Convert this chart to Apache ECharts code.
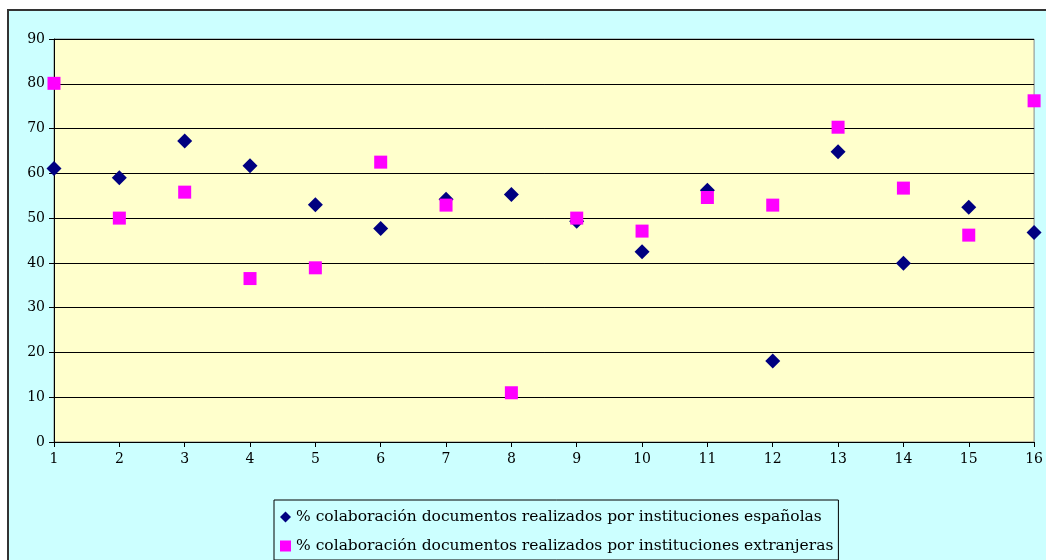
<!DOCTYPE html>
<html><head><meta charset="utf-8">
<script src="https://cdn.jsdelivr.net/npm/echarts@6/dist/echarts.min.js"></script>
<style>html,body{margin:0;padding:0;background:#fff}#c{width:1046px;height:560px}</style>
</head><body><div id="c"></div>
<script>
const xValues = [1,2,3,4,5,6,7,8,9,10,11,12,13,14,15,16];
const espanolas = [61.1,59.0,67.2,61.7,53.0,47.7,54.2,55.3,49.3,42.5,56.2,18.1,64.8,39.9,52.4,46.8];
const extranjeras = [80.1,50.0,55.8,36.5,38.9,62.5,52.9,11.0,50.0,47.1,54.6,52.9,70.3,56.7,46.2,76.2];
const seriesNames = ['% colaboración documentos realizados por instituciones españolas','% colaboración documentos realizados por instituciones extranjeras'];

const font = 'DejaVu Serif';
const chart = echarts.init(document.getElementById('c'), null, {renderer:'canvas'});
chart.setOption({
  backgroundColor:'#ffffff',
  animation:false,
  graphic:[{type:'rect',z:-10,shape:{x:8,y:10,width:1060,height:570},style:{fill:'#CCFFFF',stroke:'#333',lineWidth:2}}],
  grid:{left:54,top:39,right:11,bottom:118,show:true,backgroundColor:'#FFFFCC',borderColor:'#888',borderWidth:1},
  xAxis:{type:'value',min:1,max:16,interval:1,
    axisLine:{show:true,onZero:false,lineStyle:{color:'#000'}},
    axisTick:{show:true,length:5,lineStyle:{color:'#000'}},
    axisLabel:{color:'#000',fontFamily:font,fontSize:14,margin:10},
    splitLine:{show:false}},
  yAxis:{type:'value',min:0,max:90,interval:10,
    axisLine:{show:true,lineStyle:{color:'#000'}},
    axisTick:{show:true,length:5,lineStyle:{color:'#000'}},
    axisLabel:{color:'#000',fontFamily:font,fontSize:14,margin:9},
    splitLine:{show:true,lineStyle:{color:'#000',width:1}}},
  legend:{left:274,top:500,orient:'vertical',backgroundColor:'#CCFFFF',borderColor:'#000',borderWidth:1,
    padding:[9,5,6,6],itemGap:13,itemWidth:11,itemHeight:11,
    textStyle:{fontFamily:font,fontSize:15.5,color:'#000'},
    data:[{name:seriesNames[0],icon:'diamond'},{name:seriesNames[1],icon:'rect'}]},
  series:[
    {name:seriesNames[0],type:'scatter',symbol:'diamond',symbolSize:15,itemStyle:{color:'#000080',opacity:1},
      data:xValues.map((x,i)=>[x,espanolas[i]])},
    {name:seriesNames[1],type:'scatter',symbol:'rect',symbolSize:13,itemStyle:{color:'#FF00FF',opacity:1},
      data:xValues.map((x,i)=>[x,extranjeras[i]])}
  ]
});
</script></body></html>
